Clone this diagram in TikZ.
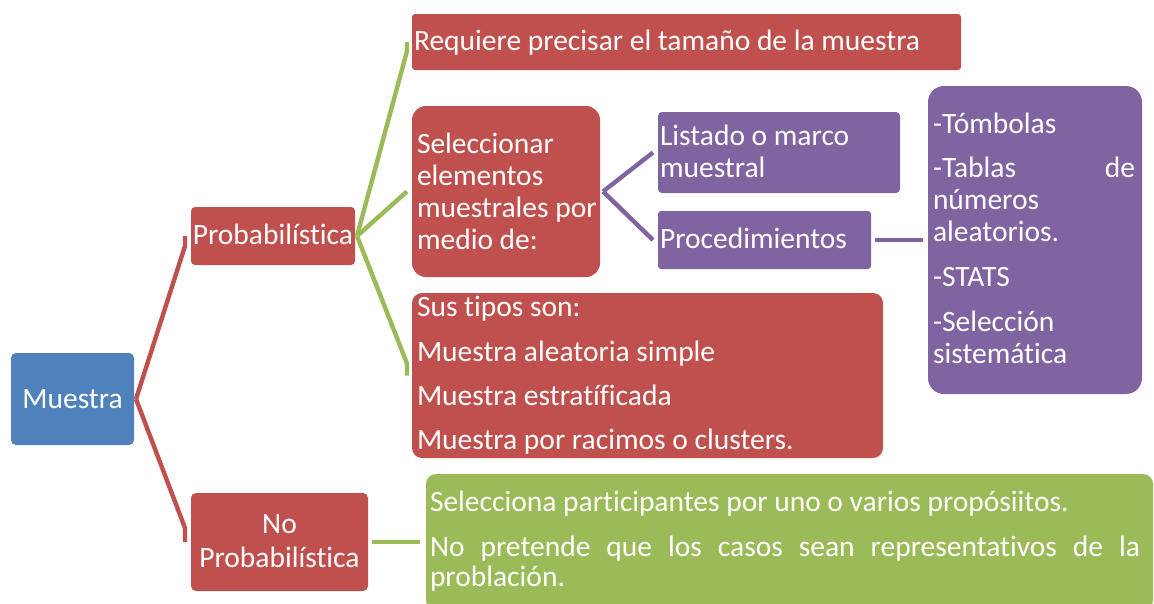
\documentclass[tikz,border=0pt]{standalone}
\usepackage{fontspec}
\setmainfont{Carlito}[Ligatures={NoCommon}]
\usetikzlibrary{calc}
\definecolor{cred}{HTML}{C0504D}
\definecolor{cblue}{HTML}{4F81BD}
\definecolor{cpurple}{HTML}{8064A2}
\definecolor{cgreen}{HTML}{9BBB59}
\tikzset{
  box/.style={inner sep=0pt, outer sep=0pt},
  txt/.style={inner sep=0pt, outer sep=0pt, text=white, font=\fontsize{29.5}{32}\selectfont},
  lw/.style={anchor=base west, txt},
  lc/.style={anchor=base, txt},
  redline/.style={draw=cred, line width=4.4pt},
  greenline/.style={draw=cgreen, line width=4.4pt},
  purpleline/.style={draw=cpurple, line width=4.4pt},
}
\begin{document}
\begin{tikzpicture}[x=1pt,y=-1pt]
\useasboundingbox (0,0) rectangle (1154,603);
\clip (0,0) rectangle (1154,603);
% boxes
\fill[cblue, rounded corners=5pt] (11,353) rectangle (134,445);
\node[box, minimum width=123pt, minimum height=92pt] (mues) at (72.5,399) {};
\fill[cred, rounded corners=4pt] (191,207) rectangle (355,265);
\node[box, minimum width=164pt, minimum height=58pt] (prob) at (273,236) {};
\fill[cred, rounded corners=5pt] (191,493) rectangle (368,591);
\node[box, minimum width=177pt, minimum height=98pt] (noprob) at (279.5,542) {};
\fill[cred, rounded corners=3pt] (412,14) rectangle (961,70);
\node[box, minimum width=549pt, minimum height=56pt] (req) at (686.5,42) {};
\fill[cred, rounded corners=14pt] (412,106) rectangle (600,277);
\node[box, minimum width=188pt, minimum height=171pt] (sel) at (506,191.5) {};
\fill[cred, rounded corners=10pt] (412,293) rectangle (883,458);
\node[box, minimum width=471pt, minimum height=165pt] (tipos) at (647.5,375.5) {};
\fill[cpurple, rounded corners=4pt] (658,112) rectangle (900,193);
\node[box, minimum width=242pt, minimum height=81pt] (list) at (779,152.5) {};
\fill[cpurple, rounded corners=3pt] (658,211) rectangle (871,269);
\node[box, minimum width=213pt, minimum height=58pt] (proc) at (764.5,240) {};
\fill[cpurple, rounded corners=16pt] (928,86) rectangle (1142,394);
\node[box, minimum width=214pt, minimum height=308pt] (tomb) at (1035,240) {};
\fill[cgreen, rounded corners=10pt] (426,474) rectangle (1153,610);
\node[box, minimum width=727pt, minimum height=136pt] (grn) at (789.5,542) {};
% connectors
\draw[redline] ([xshift=2pt]mues.east) -- ([xshift=-6pt,yshift=-10pt]prob.west) -- ([xshift=-6pt]prob.west);
\draw[redline] ([xshift=2pt]mues.east) -- ([xshift=-6pt,yshift=14pt]noprob.west) -- ([xshift=-6pt]noprob.west);
\draw[greenline] ([xshift=2pt]prob.east) -- ([xshift=-5pt,yshift=-9pt]req.west) -- ([xshift=-5pt]req.west);
\draw[greenline] ([xshift=2pt]prob.east) -- ([xshift=-5pt]sel.west);
\draw[greenline] ([xshift=2pt]prob.east) -- ([xshift=-5pt,yshift=12pt]tipos.west) -- ([xshift=-5pt]tipos.west);
\draw[purpleline] ([xshift=3pt]sel.east) -- ([xshift=-5pt]list.west);
\draw[purpleline] ([xshift=3pt]sel.east) -- ([xshift=-5pt]proc.west);
\draw[purpleline] ([xshift=4pt]proc.east) -- ([xshift=-5pt]tomb.west);
\draw[greenline] ([xshift=4pt]noprob.east) -- ([xshift=-6pt]grn.west);
% texts
\node[lc] (tmues) at (72.5,408) {Muestra};
\node[lc] (tprob) at (273,244) {Probabilística};
\node[lc] (tno1) at (279.5,533) {No};
\node[lc] (tno2) at (279.5,567) {Probabilística};
\node[lw] (treq) at (414,50) {Requiere precisar el tamaño de la muestra};
\node[lw] (ts1) at (417,153) {Seleccionar};
\node[lw] (ts2) at (417,185) {elementos};
\node[lw] (ts3) at (417,217) {muestrales por};
\node[lw] (ts4) at (417,249) {medio de:};
\node[lw] (tl1) at (660,145) {Listado o marco};
\node[lw] (tl2) at (660,177) {muestral};
\node[lw] (tp1) at (660,248) {Procedimientos};
\node[lw] (tt1) at (933,133) {-Tómbolas};
\node[lw] (tt2) at (933,177) {\makebox[202pt][s]{-Tablas de}};
\node[lw] (tt3) at (933,209) {números};
\node[lw] (tt4) at (933,241) {aleatorios.};
\node[lw] (tt5) at (933,286) {-STATS};
\node[lw] (tt6) at (933,331) {-Selección};
\node[lw] (tt7) at (933,363) {sistemática};
\node[lw] (ty1) at (417,316) {Sus tipos son:};
\node[lw] (ty2) at (417,361) {Muestra aleatoria simple};
\node[lw] (ty3) at (417,405) {Muestra estratíficada};
\node[lw] (ty4) at (417,449) {Muestra por racimos o clusters.};
\node[lw] (tg1) at (430,511) {Selecciona participantes por uno o varios propósiitos.};
\node[lw] (tg2) at (430,556) {\makebox[710pt][s]{No pretende que los casos sean representativos de la}};
\node[lw] (tg3) at (430,586) {problación.};
\end{tikzpicture}
\end{document}
